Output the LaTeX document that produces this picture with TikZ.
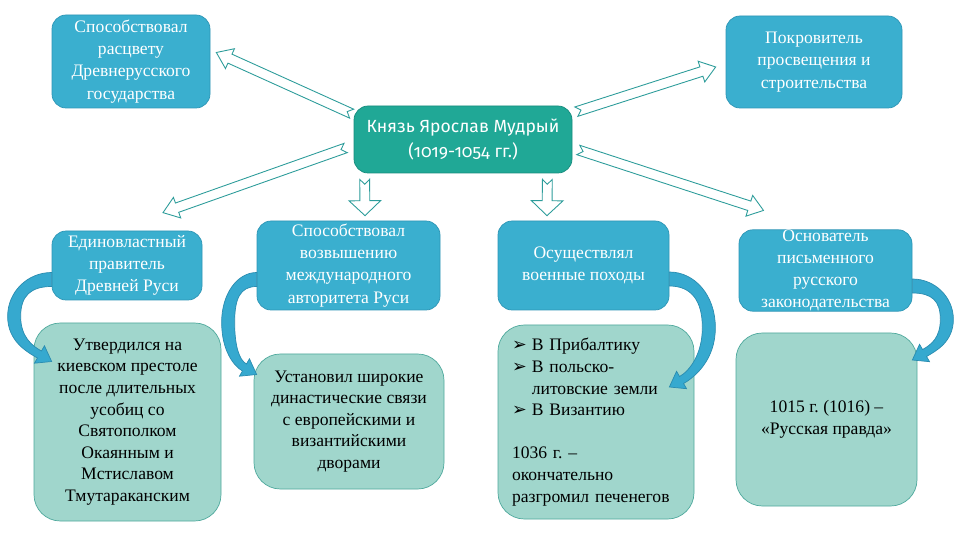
\documentclass[tikz,border=0pt]{standalone}
\usepackage{fontspec}
\setmainfont{Liberation Serif}
\newfontfamily\princefont[Numbers=OldStyle]{Fira Sans}
\newfontfamily\symfont{DejaVu Sans}
\usetikzlibrary{calc,positioning}
\definecolor{boxblue}{HTML}{3AAFCF}
\definecolor{boxedge}{HTML}{2E96B6}
\definecolor{princeteal}{HTML}{20A896}
\definecolor{princeedge}{HTML}{178C7E}
\definecolor{lightteal}{HTML}{A0D6CC}
\definecolor{lightedge}{HTML}{4FA99D}
\definecolor{arrowline}{HTML}{2C9C9A}
\definecolor{bendblue}{HTML}{36A9CF}
\definecolor{bendedge}{HTML}{2A8CB0}
\newcommand{\px}{0.02cm}
\newcommand{\bul}{\makebox[11.3pt][l]{\symfont ➢}}
\frenchspacing
\tikzset{
  bluebox/.style={draw=boxedge, fill=boxblue, rounded corners=8pt, text=white,
    align=center, inner sep=0pt, font=\fontsize{10}{12.6}\selectfont},
  greenbox/.style={draw=lightedge, fill=lightteal, rounded corners=15pt,
    align=center, inner sep=0pt, font=\fontsize{10}{12.3}\selectfont},
  princebox/.style={draw=princeedge, fill=princeteal, rounded corners=8pt, text=white,
    align=center, inner sep=0pt, font=\princefont\fontsize{10}{14}\selectfont},
  harrow/.style={draw=arrowline, fill=white, line width=0.5pt, line join=miter},
  bendarrow/.style={fill=bendblue, draw=bendedge, line width=0.4pt}
}
% hollow block arrow with notched tail: [head half width]{tail}{tip}
\newcommand{\hollowarrow}[3][6.2pt]{%
  \coordinate (neck) at ($(#3)!8.5pt!(#2)$);
  \draw[harrow] ($(#2)!2.8pt!90:(#3)$) -- ($(neck)!2.8pt!-90:(#2)$)
    -- ($(neck)!#1!-90:(#2)$) -- (#3) -- ($(neck)!#1!90:(#2)$)
    -- ($(neck)!2.8pt!90:(#2)$) -- ($(#2)!2.8pt!-90:(#3)$)
    -- ($(#2)!2.8pt!(#3)$) -- cycle;}
% curved arrow: {side}{start}{bulge}{drop}
\newcommand{\bendarrow}[4]{%
  \begin{scope}[shift={(#2)}, xscale=#1]
    \filldraw[bendarrow] (0,-7) .. controls ({-0.55*(#3+2)},-7) and ({-#3-2},{0.15*#4}) .. ({-#3-2},{0.45*#4})
      .. controls ({-#3-2},{0.75*#4}) and ({-14.2-0.26*#3},{#4-3.5-0.15*#3}) .. (-14.2,{#4-3.5})
      -- (-17.2,{#4+1.7}) -- (0,#4) -- (-7.2,{#4-15.7}) -- (-10.2,{#4-10.5})
      .. controls ({-10.2-0.22*#3},{#4-10.5-0.12*#3}) and ({-#3+11},{0.7*#4}) .. ({-#3+11},{0.45*#4})
      .. controls ({-#3+11},{0.2*#4}) and ({-0.5*#3},7) .. (0,7) -- cycle;
  \end{scope}}

\begin{document}
\begin{tikzpicture}[x=\px, y=-\px]
  \fill[white] (0,0) rectangle (960,540);
  \useasboundingbox (0,0) rectangle (960,540);

  \node[princebox, minimum width=218*\px, minimum height=67*\px] (prince) at (463,139.5)
    {Князь Ярослав Мудрый\\(1019-1054 гг.)};

  \node[bluebox, minimum width=158*\px, minimum height=93*\px] (rise) at (131,61.5)
    {Способствовал\\расцвету\\Древнерусского\\государства};
  \node[bluebox, minimum width=176*\px, minimum height=92*\px] (patron) at (814,62)
    {Покровитель\\просвещения и\\строительства};

  \node[bluebox, minimum width=150*\px, minimum height=69*\px] (unity) at (127,265.5)
    {Единовластный\\правитель\\Древней Руси};
  \node[bluebox, minimum width=183*\px, minimum height=89*\px] (prestige) at (348.5,265.5)
    {Способствовал\\возвышению\\международного\\авторитета Руси};
  \node[bluebox, minimum width=171*\px, minimum height=89*\px] (campaigns) at (583.5,265.5)
    {Осуществлял\\военные походы};
  \node[bluebox, minimum width=173*\px, minimum height=79*\px] (founder) at (825.5,270.5)
    {Основатель\\письменного\\русского\\законодательства};

  \node[greenbox, minimum width=187*\px, minimum height=198*\px] (throne) at (127.5,422)
    {Утвердился на\\киевском престоле\\после длительных\\усобиц со\\Святополком\\Окаянным и\\Мстиславом\\Тмутараканским};
  \node[greenbox, minimum width=190*\px, minimum height=135*\px] (ties) at (349,421.5)
    {Установил широкие\\династические связи\\с европейскими и\\византийскими\\дворами};
  \node[greenbox, minimum width=196*\px, minimum height=194*\px, text width=168*\px, align=left] (wars) at (596,422)
    {\bul В Прибалтику\\\bul В польско-\\\hspace*{11.3pt}литовские земли\\\bul В Византию\\[12.3pt]
     1036 г. –\\окончательно\\разгромил печенегов};
  \node[greenbox, minimum width=181*\px, minimum height=173*\px] (code) at (826.5,419.5)
    {1015 г. (1016) –\\«Русская правда»};

  \coordinate (t1) at ($(prince.north west)+(-2,8)$);
  \coordinate (h1) at ($(rise.east)+(6,-9)$);
  \coordinate (t2) at ($(prince.north east)+(4,6)$);
  \coordinate (h2) at ($(patron.west)+(-10,5)$);
  \coordinate (t3) at ($(prince.west)+(-8,8.5)$);
  \coordinate (h3) at ($(unity.north)+(36,-18)$);
  \coordinate (t4) at ($(prince.east)+(6,10.5)$);
  \coordinate (h4) at ($(founder.north)+(-62,-19)$);
  \coordinate (t5) at ($(prince.south west)+(11,6)$);
  \coordinate (h5) at ($(prestige.north)+(16.5,-5)$);
  \coordinate (t6) at ($(prince.south east)+(-25,6)$);
  \coordinate (h6) at ($(campaigns.north)+(-36.5,-5)$);
  \hollowarrow{t1}{h1}
  \hollowarrow{t2}{h2}
  \hollowarrow{t3}{h3}
  \hollowarrow{t4}{h4}
  \hollowarrow[9pt]{t5}{h5}
  \hollowarrow[9pt]{t6}{h6}

  \coordinate (b1) at ($(unity.west)+(0,14)$);
  \coordinate (b2) at ($(prestige.west)+(0,14)$);
  \coordinate (b3) at ($(campaigns.east)+(0,13.5)$);
  \coordinate (b4) at ($(founder.east)+(0,15.5)$);
  \bendarrow{1}{b1}{42}{82}
  \bendarrow{1}{b2}{33}{95}
  \bendarrow{-1}{b3}{44}{108}
  \bendarrow{-1}{b4}{39}{74}
\end{tikzpicture}
\end{document}
